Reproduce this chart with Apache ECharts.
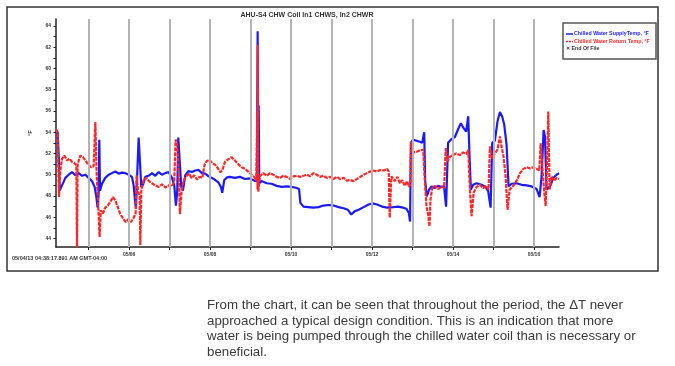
<!DOCTYPE html>
<html>
<head>
<meta charset="utf-8">
<script src="https://cdn.jsdelivr.net/npm/echarts@6/dist/echarts.min.js"></script>
<style>
html,body{margin:0;padding:0;background:#fff;}
#chart{position:absolute;left:0;top:0;width:675px;height:366px;}
#note{position:absolute;left:207px;top:297px;width:460px;font-family:"Liberation Sans",Arial,sans-serif;font-size:13.3px;line-height:15.7px;color:#3a3a3a;white-space:nowrap;}
</style>
</head>
<body>
<div id="chart"></div>
<div id="note">From the chart, it can be seen that throughout the period, the ΔT never<br>approached a typical design condition. This is an indication that more<br>water is being pumped through the chilled water coil than is necessary or<br>beneficial.</div>
<script>
// x values are day-of-May (fractional), y values in °F
const chartTitle = "AHU-S4 CHW Coil In1 CHWS, In2 CHWR";
const startLabel = "05/04/13 04:38:17.891 AM GMT-04:00";
const seriesNames = ["Chilled Water SupplyTemp, °F", "Chilled Water Return Temp, °F"];
const endOfFileLabel = "End Of File";
const dayGridLines = [5, 6, 7, 8, 9, 10, 11, 12, 13, 14, 15, 16];
const dayLabels = [6, 8, 10, 12, 14, 16];
const yLabels = [44, 46, 48, 50, 52, 54, 56, 58, 60, 62, 64];
const yTicks = [44,45,46,47,48,49,50,51,52,53,54,55,56,57,58,59,60,61,62,63,64];

const supplyTemp = [
[4.193,54.2],[4.234,54.0],[4.26,51.7],[4.284,48.5],[4.342,49.0],[4.424,49.7],[4.506,50.0],[4.588,50.25],[4.671,49.95],[4.753,50.15],[4.835,49.9],[4.918,50.0],[5.0,49.7],[5.082,49.4],[5.148,48.85],[5.19,47.9],[5.222,46.9],[5.247,48.2],[5.263,53.3],[5.28,48.5],[5.329,49.15],[5.41,49.7],[5.494,50.0],[5.576,50.15],[5.658,50.3],[5.741,50.1],[5.823,50.2],[5.905,50.15],[5.988,50.0],[6.07,49.8],[6.111,49.0],[6.144,47.6],[6.169,46.8],[6.2,50.1],[6.235,53.5],[6.276,53.4],[6.3,48.85],[6.342,49.05],[6.4,49.8],[6.48,49.9],[6.564,50.15],[6.646,49.9],[6.728,50.25],[6.81,50.0],[6.893,50.15],[6.975,50.25],[7.058,49.7],[7.115,49.0],[7.156,47.1],[7.189,48.5],[7.214,53.5],[7.263,53.5],[7.288,48.85],[7.329,48.5],[7.387,49.95],[7.47,50.35],[7.55,50.25],[7.634,50.4],[7.716,50.45],[7.798,50.15],[7.88,50.1],[7.963,49.85],[8.045,49.7],[8.128,49.5],[8.21,49.25],[8.267,48.85],[8.3,48.3],[8.35,49.5],[8.42,49.75],[8.488,49.8],[8.612,49.7],[8.736,49.8],[8.86,49.6],[8.983,49.65],[9.09,49.45],[9.157,49.4],[9.175,63.5],[9.19,52.0],[9.2,56.5],[9.215,49.2],[9.273,49.4],[9.397,49.2],[9.52,49.15],[9.645,48.95],[9.77,48.85],[9.893,48.9],[10.017,48.85],[10.14,48.75],[10.198,48.65],[10.23,47.35],[10.306,47.0],[10.43,46.95],[10.554,46.9],[10.678,46.95],[10.8,47.1],[10.926,47.15],[11.05,47.1],[11.173,46.95],[11.3,46.85],[11.405,46.7],[11.488,46.25],[11.57,46.55],[11.67,46.7],[11.793,46.95],[11.917,47.2],[12.016,47.3],[12.124,47.2],[12.248,47.0],[12.372,46.9],[12.522,46.95],[12.645,47.0],[12.77,46.9],[12.85,46.8],[12.91,46.4],[12.94,45.6],[12.96,53.0],[13.016,53.3],[13.1,53.2],[13.18,53.1],[13.24,53.0],[13.29,54.0],[13.313,49.5],[13.354,47.95],[13.41,48.6],[13.47,48.9],[13.55,48.75],[13.635,48.95],[13.717,48.85],[13.78,48.9],[13.83,47.0],[13.88,53.0],[13.965,53.35],[14.047,53.55],[14.13,54.3],[14.195,54.85],[14.26,54.4],[14.327,54.05],[14.377,55.5],[14.41,51.7],[14.443,48.6],[14.5,49.05],[14.583,49.2],[14.707,49.05],[14.805,48.85],[14.87,48.45],[14.93,46.9],[14.97,53.0],[15.036,53.2],[15.1,55.0],[15.16,55.9],[15.218,55.45],[15.267,54.7],[15.325,52.8],[15.374,48.9],[15.45,49.15],[15.572,49.2],[15.696,49.05],[15.82,49.0],[15.943,48.9],[16.067,48.65],[16.14,47.9],[16.19,49.85],[16.24,54.2],[16.273,53.6],[16.314,48.6],[16.4,48.9],[16.48,49.7],[16.56,50.0],[16.62,50.15]
];

const returnTemp = [
[4.193,54.3],[4.234,53.8],[4.267,47.9],[4.3,50.4],[4.342,51.5],[4.4,51.8],[4.465,51.35],[4.53,51.5],[4.588,51.2],[4.646,51.1],[4.695,50.9],[4.712,43.2],[4.728,51.0],[4.794,51.8],[4.86,51.65],[4.926,51.3],[4.992,50.95],[5.058,50.7],[5.123,50.8],[5.165,54.95],[5.197,50.1],[5.23,47.6],[5.27,44.15],[5.3,46.65],[5.354,46.35],[5.41,46.9],[5.47,47.1],[5.535,47.45],[5.6,47.9],[5.658,47.6],[5.716,47.0],[5.78,46.3],[5.848,45.9],[5.914,45.55],[5.98,45.8],[6.045,45.55],[6.111,45.95],[6.16,46.35],[6.185,49.95],[6.218,48.5],[6.26,47.9],[6.276,43.4],[6.3,48.5],[6.358,49.55],[6.424,49.7],[6.49,49.4],[6.564,49.2],[6.646,49.0],[6.728,48.85],[6.81,49.1],[6.893,48.8],[6.975,49.0],[7.058,48.9],[7.115,49.45],[7.148,53.3],[7.18,52.9],[7.214,51.35],[7.255,46.3],[7.296,48.5],[7.346,49.45],[7.41,49.85],[7.477,50.1],[7.543,49.7],[7.61,49.95],[7.675,49.55],[7.74,49.8],[7.806,49.7],[7.864,50.95],[7.922,51.3],[7.988,51.4],[8.053,51.1],[8.12,50.95],[8.185,50.65],[8.25,50.25],[8.3,50.4],[8.366,51.2],[8.446,51.45],[8.53,51.65],[8.61,51.35],[8.694,51.0],[8.777,50.7],[8.86,50.55],[8.942,50.3],[9.025,50.0],[9.09,49.8],[9.14,49.45],[9.165,56.0],[9.172,48.6],[9.178,62.2],[9.185,51.0],[9.19,48.4],[9.23,49.85],[9.314,50.15],[9.397,49.9],[9.48,50.15],[9.562,50.0],[9.645,49.8],[9.727,49.7],[9.81,49.9],[9.893,49.8],[9.975,49.6],[10.058,49.85],[10.14,49.9],[10.223,49.8],[10.306,49.9],[10.39,50.0],[10.47,49.85],[10.554,50.15],[10.636,50.0],[10.72,49.8],[10.8,49.9],[10.884,49.7],[10.967,49.8],[11.05,49.6],[11.132,49.8],[11.215,49.6],[11.3,49.7],[11.38,49.45],[11.463,49.5],[11.545,49.4],[11.628,49.6],[11.71,49.8],[11.793,50.0],[11.876,50.15],[11.96,50.3],[12.04,50.4],[12.124,50.3],[12.207,50.45],[12.29,50.4],[12.372,50.55],[12.413,50.3],[12.438,45.95],[12.47,49.2],[12.48,49.85],[12.563,49.4],[12.63,49.8],[12.687,49.2],[12.745,49.5],[12.81,48.95],[12.868,49.4],[12.918,48.85],[12.95,49.2],[12.967,53.1],[13.016,52.1],[13.1,52.15],[13.18,52.3],[13.264,52.35],[13.297,52.3],[13.313,48.9],[13.346,47.0],[13.387,46.25],[13.42,45.15],[13.445,47.65],[13.486,48.75],[13.552,48.95],[13.635,48.65],[13.717,48.9],[13.78,48.75],[13.824,52.5],[13.865,51.25],[13.93,51.7],[14.0,51.85],[14.08,52.0],[14.17,51.85],[14.25,52.1],[14.335,51.95],[14.377,52.35],[14.418,48.6],[14.46,46.1],[14.51,48.3],[14.583,48.85],[14.665,49.05],[14.748,48.75],[14.83,48.95],[14.88,48.6],[14.913,52.65],[14.97,51.55],[15.036,52.0],[15.1,52.35],[15.16,53.6],[15.2,52.65],[15.25,51.7],[15.3,49.85],[15.35,46.7],[15.4,48.6],[15.465,48.85],[15.53,49.15],[15.597,49.6],[15.655,50.15],[15.737,50.55],[15.82,50.7],[15.902,50.6],[15.985,50.7],[16.067,50.55],[16.133,50.4],[16.166,52.95],[16.207,50.8],[16.25,48.6],[16.29,47.05],[16.33,51.7],[16.355,55.95],[16.388,48.6],[16.438,49.85],[16.5,49.45],[16.562,49.7],[16.62,49.6]
];

const blue = '#1a1aff';
const red = '#ff2626';
const pad = v => (v < 10 ? '0' : '') + v;

const chart = echarts.init(document.getElementById('chart'), null, {renderer: 'canvas'});
chart.setOption({
  animation: false,
  backgroundColor: '#fff',
  grid: {left: 56, right: 116, top: 19, bottom: 119, containLabel: false},
  xAxis: {
    type: 'value', min: 4.193, max: 16.62,
    axisLine: {lineStyle: {color: '#222', width: 1.5}},
    axisTick: {show: true, customValues: dayGridLines, length: 3, lineStyle: {color: '#222'}},
    axisLabel: {customValues: dayLabels, formatter: v => '05/' + pad(Math.round(v)), fontSize: 5, fontWeight: 'bold', color: '#333', margin: 5, fontFamily: 'Liberation Sans'},
    splitLine: {show: false}
  },
  yAxis: {
    type: 'value', min: 43.2, max: 64.65,
    name: '°F', nameLocation: 'middle', nameGap: 23, nameRotate: 90,
    nameTextStyle: {fontSize: 6, fontWeight: 'bold', color: '#333', fontFamily: 'Liberation Sans'},
    axisLine: {show: true, lineStyle: {color: '#222', width: 1.5}},
    axisTick: {show: true, customValues: yTicks, length: 2.5, lineStyle: {color: '#222'}},
    axisLabel: {customValues: yLabels, fontSize: 5, fontWeight: 'bold', color: '#333', margin: 5, fontFamily: 'Liberation Sans'},
    splitLine: {show: false}
  },
  series: [
    {
      type: 'line', name: 'grid', data: [], silent: true, z: 1,
      markLine: {
        silent: true, symbol: ['none', 'none'], label: {show: false},
        lineStyle: {type: 'solid', color: '#b4b4b4', width: 2},
        data: dayGridLines.map(d => ({xAxis: d}))
      }
    },
    {
      type: 'line', name: seriesNames[0], data: supplyTemp, showSymbol: false, z: 3,
      lineStyle: {color: blue, width: 2.2}, itemStyle: {color: blue}
    },
    {
      type: 'line', name: seriesNames[1], data: returnTemp, showSymbol: false, z: 4,
      lineStyle: {color: red, width: 2.2, type: [4, 1]}, itemStyle: {color: red}
    }
  ],
  graphic: [
    {type: 'rect', shape: {x: 7, y: 7, width: 651, height: 264}, style: {fill: 'none', stroke: '#333', lineWidth: 1.5}, silent: true},
    {type: 'text', x: 307, y: 15, style: {text: chartTitle, align: 'center', verticalAlign: 'middle', font: 'bold 7px "Liberation Sans"', fill: '#333'}},
    {type: 'text', x: 12, y: 258, style: {text: startLabel, align: 'left', verticalAlign: 'middle', font: 'bold 5.5px "Liberation Sans"', fill: '#333'}},
    {type: 'rect', shape: {x: 563, y: 23, width: 93, height: 36}, style: {fill: '#fff', stroke: '#555', lineWidth: 1.5}, silent: true},
    {type: 'line', shape: {x1: 566, y1: 34, x2: 573, y2: 34}, style: {stroke: blue, lineWidth: 1.5}},
    {type: 'text', x: 574, y: 34, style: {text: seriesNames[0], verticalAlign: 'middle', font: 'bold 5.3px "Liberation Sans"', fill: blue}},
    {type: 'line', shape: {x1: 566, y1: 41.5, x2: 573, y2: 41.5}, style: {stroke: red, lineWidth: 1.5, lineDash: [2, 1]}},
    {type: 'text', x: 574, y: 41.5, style: {text: seriesNames[1], verticalAlign: 'middle', font: 'bold 5.3px "Liberation Sans"', fill: red}},
    {type: 'text', x: 566, y: 49, style: {text: '✕ ' + endOfFileLabel, verticalAlign: 'middle', font: 'bold 5.3px "Liberation Sans"', fill: '#333'}}
  ]
});
</script>
</body>
</html>
